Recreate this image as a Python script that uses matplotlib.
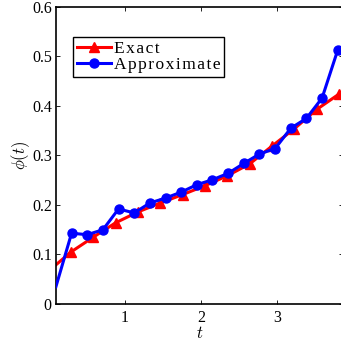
import numpy as np
import matplotlib
matplotlib.use("Agg")
import matplotlib.pyplot as plt
from matplotlib.ticker import FuncFormatter

# exact solution samples
t_exact = [0.0, 0.289, 0.583, 0.877, 1.171, 1.465, 1.759, 2.053, 2.347,
           2.641, 2.935, 3.229, 3.523, 3.816]
phi_exact = [0.067, 0.105, 0.135, 0.164, 0.186, 0.204, 0.221, 0.239, 0.259,
             0.283, 0.319, 0.354, 0.393, 0.424]

# approximate solution samples
t_approx = [0.092, 0.298, 0.504, 0.710, 0.916, 1.122, 1.328, 1.534, 1.740,
            1.946, 2.152, 2.358, 2.564, 2.770, 2.976, 3.182, 3.388, 3.594, 3.800]
phi_approx = [0.035, 0.143, 0.140, 0.150, 0.192, 0.184, 0.204, 0.214, 0.226,
              0.241, 0.251, 0.264, 0.284, 0.303, 0.314, 0.355, 0.375, 0.416, 0.513]

labels = ['Exact', 'Approximate']

plt.rcParams['font.family'] = ['Liberation Serif', 'DejaVu Serif']
plt.rcParams['mathtext.fontset'] = 'cm'

def spaced(s):
    # matlab-ish letter spacing
    return '\u200a'.join(s)

fig = plt.figure(figsize=(3.41, 3.41), dpi=100)
ax = fig.add_axes([0.164, 0.1085, 0.842, 0.871])

ax.plot(t_exact, phi_exact, '-^', color='red', lw=2.2, ms=7.5,
        label=spaced(labels[0]), zorder=2)
ax.plot(t_approx, phi_approx, '-o', color='blue', lw=2.2, ms=6.5,
        markevery=list(range(1, len(t_approx))),
        label=spaced(labels[1]), zorder=3)

ax.set_xlim(0.092, 3.87)
ax.set_ylim(0, 0.6)
ax.set_xticks([1, 2, 3])
ax.set_yticks([0, 0.1, 0.2, 0.3, 0.4, 0.5, 0.6])
ax.yaxis.set_major_formatter(FuncFormatter(lambda v, p: '0' if v == 0 else f'{v:g}'))
ax.tick_params(direction='in', top=True, right=True, labelsize=11.5, length=3, width=0.6)
ax.tick_params(axis='x', pad=4)
ax.tick_params(axis='y', pad=3)
for s in ax.spines.values():
    s.set_linewidth(1.2)

ax.set_xlabel(r'$t$', fontsize=12, labelpad=0)
ax.set_ylabel(r'$\phi(t)$', fontsize=12, labelpad=0)

leg = ax.legend(loc='upper left', bbox_to_anchor=(0.059, 0.899), fontsize=12.5,
                fancybox=False, edgecolor='black', framealpha=1,
                handlelength=2.0, handletextpad=0.15, borderpad=0.22,
                labelspacing=0.02, borderaxespad=0)
leg.get_frame().set_linewidth(1.0)

fig.savefig('out.png', dpi=100)
